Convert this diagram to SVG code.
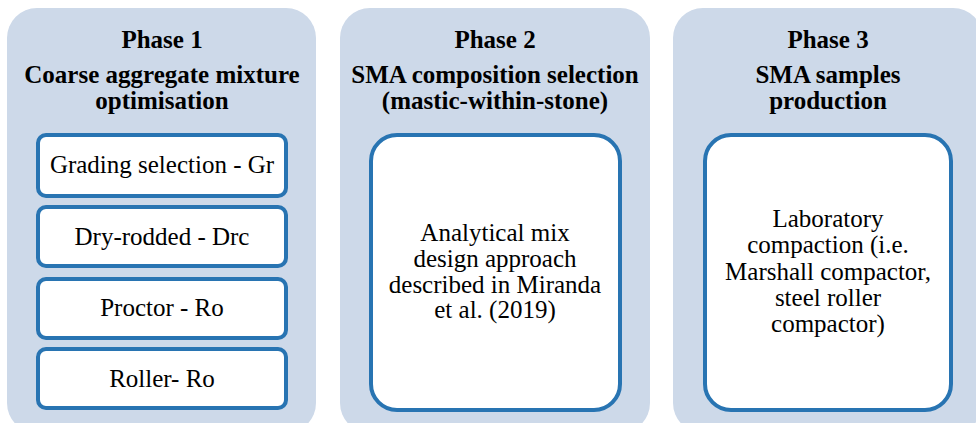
<svg xmlns="http://www.w3.org/2000/svg" width="976" height="423" viewBox="0 0 976 423">
  <style>
    .panel { fill: #CDD9E9; }
    .box { fill: #FFFFFF; stroke: #2874B2; stroke-width: 4; }
    .title { font-family: "Liberation Serif", "Times New Roman", serif; font-weight: bold; font-size: 25px; fill: #000000; text-anchor: middle; }
    .label { font-family: "Liberation Serif", "Times New Roman", serif; font-size: 25px; fill: #000000; text-anchor: middle; }
  </style>
  <rect width="976" height="423" fill="#FFFFFF"/>

  <!-- Phase 1 -->
  <g id="phase1">
    <rect class="panel" x="7" y="8" width="309" height="425" rx="30" ry="30"/>
    <text class="title" x="162" y="48">Phase 1</text>
    <text class="title" x="162" y="83">Coarse aggregate mixture</text>
    <text class="title" x="162" y="109">optimisation</text>
  </g>
  <g id="grading">
    <rect class="box" x="38" y="135" width="248" height="61" rx="8" ry="8"/>
    <text class="label" x="162" y="173">Grading selection - Gr</text>
  </g>
  <g id="dry-rodded">
    <rect class="box" x="38" y="207" width="248" height="59" rx="8" ry="8"/>
    <text class="label" x="162" y="245">Dry-rodded - Drc</text>
  </g>
  <g id="proctor">
    <rect class="box" x="38" y="279" width="248" height="59" rx="8" ry="8"/>
    <text class="label" x="162" y="316">Proctor - Ro</text>
  </g>
  <g id="roller">
    <rect class="box" x="38" y="349" width="248" height="59" rx="8" ry="8"/>
    <text class="label" x="162" y="387">Roller- Ro</text>
  </g>

  <!-- Phase 2 -->
  <g id="phase2">
    <rect class="panel" x="340" y="8" width="310" height="425" rx="30" ry="30"/>
    <text class="title" x="495" y="48">Phase 2</text>
    <text class="title" x="495" y="83">SMA composition selection</text>
    <text class="title" x="495" y="109">(mastic-within-stone)</text>
  </g>
  <g id="mix-design">
    <rect class="box" x="371" y="135" width="249" height="275" rx="26" ry="26"/>
    <text class="label" x="495" y="241">Analytical mix</text>
    <text class="label" x="495" y="267">design approach</text>
    <text class="label" x="495" y="293">described in Miranda</text>
    <text class="label" x="495" y="318">et al. (2019)</text>
  </g>

  <!-- Phase 3 -->
  <g id="phase3">
    <rect class="panel" x="673" y="8" width="310" height="425" rx="30" ry="30"/>
    <text class="title" x="828" y="48">Phase 3</text>
    <text class="title" x="828" y="83">SMA samples</text>
    <text class="title" x="828" y="109">production</text>
  </g>
  <g id="compaction">
    <rect class="box" x="705" y="135" width="246" height="275" rx="26" ry="26"/>
    <text class="label" x="828" y="227">Laboratory</text>
    <text class="label" x="828" y="253">compaction (i.e.</text>
    <text class="label" x="828" y="280">Marshall compactor,</text>
    <text class="label" x="828" y="306">steel roller</text>
    <text class="label" x="828" y="332">compactor)</text>
  </g>

  <g id="connectors"></g>
</svg>
